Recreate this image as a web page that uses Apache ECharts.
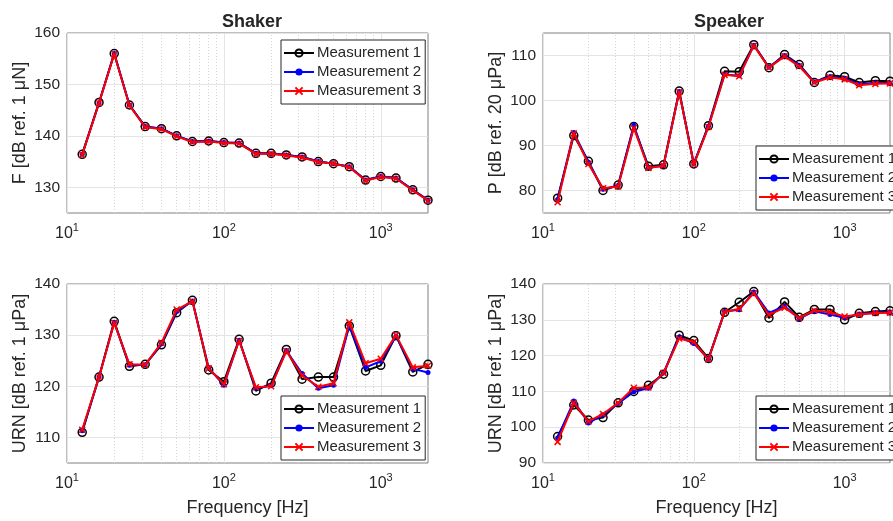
<!DOCTYPE html>
<html>
<head>
<meta charset="utf-8">
<script src="https://cdn.jsdelivr.net/npm/echarts@6/dist/echarts.min.js"></script>
<style>html,body{margin:0;padding:0;background:#fff;}#c{width:893px;height:521px;}</style>
</head>
<body>
<div id="c"></div>
<script>
// ---- data ----
const freq = [12.5,16,20,25,31.5,40,50,63,80,100,125,160,200,250,315,400,500,630,800,1000,1250,1600,2000];
const seriesNames = ['Measurement 1','Measurement 2','Measurement 3'];

const shakerF1 = [136.4,146.5,156.0,146.0,141.8,141.4,140.0,138.9,139.0,138.7,138.6,136.6,136.6,136.3,135.9,135.0,134.6,134.0,131.4,132.1,131.8,129.5,127.5];
const shakerF2 = [136.4,146.4,156.0,146.0,141.8,141.4,140.0,138.9,139.0,138.7,138.6,136.6,136.5,136.3,135.9,135.0,134.6,134.0,131.4,132.1,131.8,129.5,127.5];
const shakerF3 = [136.3,146.4,155.9,145.9,141.7,141.3,139.9,138.8,138.9,138.6,138.5,136.5,136.5,136.2,135.8,134.9,134.6,133.9,131.3,132.0,131.7,129.4,127.4];

const speakerP1 = [78.3,92.2,86.5,80.0,81.2,94.2,85.4,85.7,102.1,85.9,94.4,106.5,106.4,112.4,107.3,110.2,108.0,104.0,105.6,105.3,104.0,104.4,104.3];
const speakerP2 = [78.0,92.9,86.3,80.3,81.1,94.5,85.1,85.5,102.0,85.9,94.3,105.8,105.5,112.3,107.4,110.0,107.8,104.1,105.3,104.9,103.6,103.9,103.9];
const speakerP3 = [77.4,92.7,85.9,80.5,80.9,93.9,85.0,85.5,101.9,85.8,94.1,105.7,105.4,112.2,107.3,109.8,107.6,104.0,105.1,104.7,103.4,103.7,103.8];

const shakerURN1 = [111.0,121.8,132.7,123.9,124.3,128.1,134.4,136.8,123.2,120.9,129.2,119.1,120.6,127.2,121.4,121.8,121.8,131.8,123.0,124.1,129.9,122.8,124.3];
const shakerURN2 = [111.3,121.8,132.5,124.1,124.2,128.3,134.6,136.7,123.6,120.2,129.0,119.6,120.1,127.0,122.5,119.6,120.2,131.9,123.7,124.9,129.8,123.4,122.7];
const shakerURN3 = [111.5,121.8,132.4,124.3,124.2,128.5,135.0,136.6,123.5,120.4,128.9,119.8,120.0,126.9,122.1,119.9,120.6,132.5,124.5,125.4,130.0,123.7,124.0];

const speakerURN1 = [97.4,106.2,102.0,102.7,106.8,110.0,111.7,114.8,125.7,124.2,119.2,132.1,134.9,137.9,130.5,135.0,130.7,132.9,132.9,130.0,131.8,132.3,132.5];
const speakerURN2 = [97.0,107.3,101.2,103.4,106.6,109.9,110.9,115.2,125.2,123.4,119.0,132.3,132.8,137.8,131.9,133.8,130.3,132.4,131.5,130.6,131.6,132.0,132.2];
const speakerURN3 = [95.9,106.8,101.6,103.7,106.8,111.0,111.1,115.1,124.8,123.8,118.9,132.2,133.1,137.4,131.4,133.4,130.5,132.6,132.1,130.9,131.5,131.9,132.0];

// tick labels / gridlines
const xMajor = [10,100,1000];
const xMinor = [20,30,40,50,60,70,80,90,200,300,400,500,600,700,800,900];
const yTicksShakerF = [130,140,150,160];
const yTicksSpeakerP = [80,90,100,110];
const yTicksShakerURN = [110,120,130,140];
const yTicksSpeakerURN = [90,100,110,120,130,140];

const titles = ['Shaker','Speaker'];
const yNames = ['F [dB ref. 1 \u03bcN]','P [dB ref. 20 \u03bcPa]','URN [dB ref. 1 \u03bcPa]','URN [dB ref. 1 \u03bcPa]'];
const xName = 'Frequency [Hz]';

// ---- layout ----
const TXT = '#262626';
const FONT = 'Liberation Sans, Arial, sans-serif';
const panels = [
  {grid:{left:67, top:33, width:361, height:180}, ymin:125, ymax:160, yTicks:yTicksShakerF, data:[shakerF1,shakerF2,shakerF3], yName:yNames[0], legend:{left:281, top:40}, xName:false},
  {grid:{left:543, top:33, width:362, height:180}, ymin:75, ymax:115, yTicks:yTicksSpeakerP, data:[speakerP1,speakerP2,speakerP3], yName:yNames[1], legend:{left:756, top:146}, xName:false},
  {grid:{left:67, top:284, width:361, height:179}, ymin:105, ymax:140, yTicks:yTicksShakerURN, data:[shakerURN1,shakerURN2,shakerURN3], yName:yNames[2], legend:{left:281, top:396}, xName:true},
  {grid:{left:543, top:284, width:362, height:179}, ymin:90, ymax:140, yTicks:yTicksSpeakerURN, data:[speakerURN1,speakerURN2,speakerURN3], yName:yNames[3], legend:{left:756, top:396}, xName:true}
];

const styles = [
  {color:'#000000', symbol:'circle', symbolSize:8, itemStyle:{color:'rgba(0,0,0,0)', borderColor:'#000000', borderWidth:1.5}},
  {color:'#0000ff', symbol:'circle', symbolSize:5, itemStyle:{color:'#0000ff', borderColor:'#0000ff', borderWidth:0}},
  {color:'#ff0000', symbol:'path://M0,0L10,10M0,10L10,0', symbolSize:6, itemStyle:{color:'#ff0000', borderColor:'#ff0000', borderWidth:1.5}}
];

const isPow10 = v => { const l = Math.log10(v); return Math.abs(l - Math.round(l)) < 1e-6; };

const grids = [], xAxes = [], yAxes = [], series = [], legends = [];
panels.forEach((p, gi) => {
  grids.push(Object.assign({show:true, borderColor:'#808080', borderWidth:1, backgroundColor:'#fff', containLabel:false}, p.grid));
  xAxes.push({
    type:'log', logBase:10, gridIndex:gi, min:10, max:2000,
    axisLine:{show:false}, axisTick:{show:false}, splitLine:{show:false}, minorTick:{show:false},
    axisLabel:{
      margin:9, color:TXT, fontFamily:FONT,
      formatter: v => isPow10(v) ? '{b|10}{s|' + Math.round(Math.log10(v)) + '}' : '',
      rich:{
        b:{fontSize:16, color:TXT, fontFamily:FONT, lineHeight:20, verticalAlign:'bottom'},
        s:{fontSize:11, color:TXT, fontFamily:FONT, lineHeight:11, verticalAlign:'top'}
      }
    },
    name: p.xName ? xName : '', nameLocation:'middle', nameGap:36,
    nameTextStyle:{fontSize:18, color:TXT, fontFamily:FONT}
  });
  yAxes.push({
    type:'value', gridIndex:gi, min:p.ymin, max:p.ymax, interval:5,
    axisLine:{show:false}, axisTick:{show:false}, splitLine:{show:false},
    axisLabel:{margin:7, fontSize:15.5, color:TXT, fontFamily:FONT, formatter: v => p.yTicks.indexOf(v) >= 0 ? String(v) : ''},
    name:p.yName, nameLocation:'middle', nameGap:38,
    nameTextStyle:{fontSize:18, color:TXT, fontFamily:FONT}
  });
  p.data.forEach((vals, si) => {
    const st = styles[si];
    const s = {
      type:'line', name:seriesNames[si], xAxisIndex:gi, yAxisIndex:gi,
      data: freq.map((f, k) => [f, vals[k]]),
      symbol:st.symbol, symbolSize:st.symbolSize, showAllSymbol:true,
      lineStyle:{color:st.color, width:2}, itemStyle:st.itemStyle,
      z:2 + si, animation:false, clip:true
    };
    if (si === 0) {
      const mk = [];
      xMajor.forEach(v => mk.push({xAxis:v, lineStyle:{type:'solid', color:'#e4e4e4', width:1}}));
      xMinor.forEach(v => mk.push({xAxis:v, lineStyle:{type:[1,2], color:'#d6d6d6', width:1}}));
      p.yTicks.forEach(v => mk.push({yAxis:v, lineStyle:{type:'solid', color:'#e4e4e4', width:1}}));
      s.markLine = {silent:true, symbol:['none','none'], z:1, animation:false, label:{show:false}, emphasis:{disabled:true}, data:mk};
    }
    series.push(s);
  });
  legends.push({
    left:p.legend.left, top:p.legend.top, orient:'vertical', data:seriesNames,
    itemWidth:30, itemHeight:9, itemGap:3, padding:[5,4,5,2],
    backgroundColor:'#fff', borderColor:'#262626', borderWidth:1, borderRadius:0,
    selectedMode:false,
    textStyle:{fontSize:15, lineHeight:16, color:TXT, fontFamily:FONT, padding:[0,0,0,-2]}
  });
});

const titleComps = [
  {text:titles[0], left:247, top:8, textAlign:'center', textStyle:{fontSize:18, fontWeight:'bold', color:TXT, fontFamily:FONT}},
  {text:titles[1], left:724, top:8, textAlign:'center', textStyle:{fontSize:18, fontWeight:'bold', color:TXT, fontFamily:FONT}}
];

const chart = echarts.init(document.getElementById('c'), null, {renderer:'canvas'});
chart.setOption({
  animation:false,
  backgroundColor:'#fff',
  title:titleComps,
  grid:grids, xAxis:xAxes, yAxis:yAxes, legend:legends, series:series
});
</script>
</body>
</html>
